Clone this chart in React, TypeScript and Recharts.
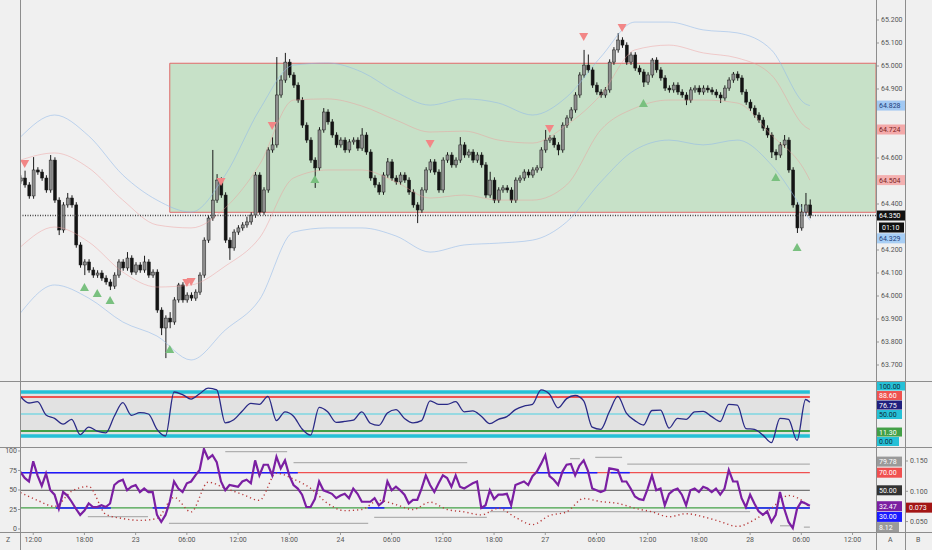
import React from 'react';
import {
  ComposedChart,
  Bar,
  Line,
  Scatter,
  XAxis,
  YAxis,
  ReferenceLine,
  ReferenceArea,
} from 'recharts';

const FONT = 'Roboto, "Liberation Sans", sans-serif';
const X_DOMAIN: [number, number] = [-0.1, 200.5];
const LAST = 185;

// 30-minute candles
const candleOpen = [
  64.500, 64.513, 64.483, 64.435, 64.548, 64.539, 64.513, 64.461, 64.591, 64.417,
  64.287, 64.396, 64.426, 64.396, 64.222, 64.135, 64.148, 64.113, 64.091, 64.100,
  64.078, 64.061, 64.043, 64.091, 64.148, 64.122, 64.165, 64.104, 64.135, 64.113,
  64.148, 64.091, 64.104, 63.939, 63.861, 63.904, 63.887, 63.983, 64.048, 63.983,
  64.004, 63.991, 64.017, 64.091, 64.243, 64.339, 64.417, 64.504, 64.439, 64.243,
  64.209, 64.278, 64.296, 64.309, 64.322, 64.352, 64.526, 64.365, 64.461, 64.635,
  64.657, 64.874, 64.939, 65.017, 64.961, 64.917, 64.852, 64.743, 64.678, 64.591,
  64.557, 64.722, 64.800, 64.757, 64.700, 64.657, 64.678, 64.635, 64.670, 64.678,
  64.643, 64.700, 64.626, 64.513, 64.483, 64.452, 64.526, 64.583, 64.513, 64.496,
  64.526, 64.504, 64.452, 64.396, 64.374, 64.461, 64.548, 64.583, 64.539, 64.461,
  64.591, 64.613, 64.570, 64.591, 64.657, 64.613, 64.626, 64.591, 64.613, 64.570,
  64.439, 64.504, 64.417, 64.461, 64.470, 64.461, 64.417, 64.504, 64.513, 64.539,
  64.526, 64.548, 64.557, 64.635, 64.678, 64.687, 64.657, 64.635, 64.743, 64.774,
  64.809, 64.874, 64.961, 65.004, 64.983, 64.917, 64.887, 64.874, 64.896, 65.017,
  65.070, 65.113, 65.091, 65.017, 65.048, 64.991, 64.974, 64.930, 64.961, 65.026,
  64.983, 64.948, 64.904, 64.896, 64.917, 64.887, 64.874, 64.852, 64.896, 64.904,
  64.887, 64.904, 64.896, 64.887, 64.874, 64.861, 64.904, 64.939, 64.965, 64.948,
  64.887, 64.843, 64.817, 64.787, 64.765, 64.730, 64.700, 64.626, 64.613, 64.657,
  64.678, 64.548, 64.396, 64.296, 64.365, 64.396,
];
const candleHigh = [
  64.525, 64.545, 64.495, 64.604, 64.560, 64.551, 64.525, 64.613, 64.603, 64.429,
  64.408, 64.448, 64.438, 64.408, 64.234, 64.160, 64.160, 64.125, 64.112, 64.112,
  64.090, 64.073, 64.103, 64.160, 64.160, 64.191, 64.177, 64.147, 64.147, 64.175,
  64.160, 64.116, 64.116, 63.951, 63.916, 63.930, 63.995, 64.057, 64.060, 64.016,
  64.016, 64.029, 64.103, 64.255, 64.351, 64.635, 64.530, 64.516, 64.451, 64.255,
  64.290, 64.308, 64.321, 64.345, 64.364, 64.539, 64.538, 64.473, 64.647, 64.690,
  65.039, 64.960, 65.057, 65.030, 64.973, 64.929, 64.864, 64.755, 64.690, 64.603,
  64.734, 64.817, 64.812, 64.769, 64.712, 64.690, 64.690, 64.682, 64.690, 64.690,
  64.730, 64.712, 64.638, 64.525, 64.495, 64.538, 64.600, 64.595, 64.525, 64.538,
  64.538, 64.516, 64.464, 64.408, 64.473, 64.560, 64.595, 64.595, 64.551, 64.603,
  64.625, 64.625, 64.603, 64.691, 64.669, 64.638, 64.638, 64.625, 64.625, 64.582,
  64.540, 64.516, 64.473, 64.482, 64.482, 64.473, 64.516, 64.525, 64.551, 64.551,
  64.560, 64.569, 64.647, 64.722, 64.699, 64.699, 64.669, 64.755, 64.786, 64.821,
  64.886, 64.973, 65.070, 65.050, 64.995, 64.929, 64.899, 64.908, 65.029, 65.082,
  65.143, 65.125, 65.103, 65.060, 65.060, 65.003, 64.986, 64.973, 65.035, 65.038,
  64.995, 64.960, 64.916, 64.929, 64.929, 64.899, 64.886, 64.908, 64.916, 64.916,
  64.916, 64.916, 64.908, 64.899, 64.886, 64.916, 64.951, 64.974, 64.977, 64.960,
  64.899, 64.855, 64.829, 64.799, 64.777, 64.742, 64.712, 64.638, 64.669, 64.700,
  64.690, 64.560, 64.408, 64.400, 64.448, 64.420,
];
const candleLow = [
  64.488, 64.471, 64.423, 64.423, 64.527, 64.501, 64.449, 64.449, 64.405, 64.265,
  64.275, 64.384, 64.384, 64.210, 64.123, 64.091, 64.101, 64.079, 64.079, 64.066,
  64.049, 64.026, 64.031, 64.079, 64.110, 64.110, 64.092, 64.092, 64.101, 64.101,
  64.079, 64.079, 63.927, 63.830, 63.730, 63.860, 63.875, 63.971, 63.971, 63.971,
  63.979, 63.979, 64.005, 64.079, 64.231, 64.327, 64.405, 64.427, 64.231, 64.157,
  64.197, 64.266, 64.284, 64.297, 64.310, 64.340, 64.353, 64.353, 64.449, 64.623,
  64.645, 64.862, 64.927, 64.949, 64.905, 64.840, 64.731, 64.666, 64.579, 64.470,
  64.545, 64.710, 64.745, 64.688, 64.645, 64.645, 64.623, 64.623, 64.658, 64.631,
  64.631, 64.614, 64.501, 64.471, 64.440, 64.440, 64.514, 64.501, 64.484, 64.484,
  64.492, 64.440, 64.384, 64.317, 64.362, 64.449, 64.536, 64.527, 64.449, 64.449,
  64.579, 64.558, 64.558, 64.579, 64.601, 64.601, 64.579, 64.579, 64.558, 64.427,
  64.427, 64.404, 64.405, 64.449, 64.449, 64.405, 64.405, 64.492, 64.501, 64.514,
  64.514, 64.536, 64.545, 64.623, 64.666, 64.645, 64.612, 64.623, 64.731, 64.762,
  64.797, 64.862, 64.949, 64.971, 64.905, 64.875, 64.862, 64.862, 64.884, 65.005,
  65.058, 65.079, 65.005, 65.005, 64.979, 64.962, 64.909, 64.918, 64.949, 64.971,
  64.936, 64.892, 64.884, 64.884, 64.875, 64.862, 64.830, 64.840, 64.884, 64.875,
  64.875, 64.884, 64.875, 64.862, 64.839, 64.849, 64.892, 64.927, 64.936, 64.875,
  64.831, 64.805, 64.775, 64.753, 64.718, 64.688, 64.600, 64.591, 64.601, 64.645,
  64.536, 64.384, 64.274, 64.284, 64.353, 64.338,
];
const candleClose = [
  64.513, 64.483, 64.435, 64.548, 64.539, 64.513, 64.461, 64.591, 64.417, 64.287,
  64.396, 64.426, 64.396, 64.222, 64.135, 64.148, 64.113, 64.091, 64.100, 64.078,
  64.061, 64.043, 64.091, 64.148, 64.122, 64.165, 64.104, 64.135, 64.113, 64.148,
  64.091, 64.104, 63.939, 63.861, 63.904, 63.887, 63.983, 64.048, 63.983, 64.004,
  63.991, 64.017, 64.091, 64.243, 64.339, 64.417, 64.504, 64.439, 64.243, 64.209,
  64.278, 64.296, 64.309, 64.322, 64.352, 64.526, 64.365, 64.461, 64.635, 64.657,
  64.874, 64.939, 65.017, 64.961, 64.917, 64.852, 64.743, 64.678, 64.591, 64.557,
  64.722, 64.800, 64.757, 64.700, 64.657, 64.678, 64.635, 64.670, 64.678, 64.643,
  64.700, 64.626, 64.513, 64.483, 64.452, 64.526, 64.583, 64.513, 64.496, 64.526,
  64.504, 64.452, 64.396, 64.374, 64.461, 64.548, 64.583, 64.539, 64.461, 64.591,
  64.613, 64.570, 64.591, 64.657, 64.613, 64.626, 64.591, 64.613, 64.570, 64.439,
  64.504, 64.417, 64.461, 64.470, 64.461, 64.417, 64.504, 64.513, 64.539, 64.526,
  64.548, 64.557, 64.635, 64.678, 64.687, 64.657, 64.635, 64.743, 64.774, 64.809,
  64.874, 64.961, 65.004, 64.983, 64.917, 64.887, 64.874, 64.896, 65.017, 65.070,
  65.113, 65.091, 65.017, 65.048, 64.991, 64.974, 64.930, 64.961, 65.026, 64.983,
  64.948, 64.904, 64.896, 64.917, 64.887, 64.874, 64.852, 64.896, 64.904, 64.887,
  64.904, 64.896, 64.887, 64.874, 64.861, 64.904, 64.939, 64.965, 64.948, 64.887,
  64.843, 64.817, 64.787, 64.765, 64.730, 64.700, 64.626, 64.613, 64.657, 64.678,
  64.548, 64.396, 64.296, 64.365, 64.396, 64.350,
];

// envelope bands, sampled every 8 candles
const bandIndex = [0, 8, 16, 24, 32, 40, 48, 56, 64, 72, 80, 88, 96, 104, 112, 120, 128, 136, 144, 152, 160, 168, 176, 184, 185];
const bandUpperOuter = [64.691, 64.787, 64.696, 64.526, 64.417, 64.365, 64.526, 64.809, 65.004, 65.013, 64.974, 64.887, 64.830, 64.857, 64.839, 64.787, 64.865, 65.039, 65.191, 65.191, 65.157, 65.144, 65.070, 64.835, 64.828];
const bandUpperInner = [64.591, 64.622, 64.557, 64.417, 64.309, 64.296, 64.383, 64.570, 64.852, 64.857, 64.826, 64.765, 64.713, 64.717, 64.678, 64.665, 64.743, 64.874, 65.070, 65.091, 65.057, 65.035, 64.961, 64.735, 64.724];
const bandLowerInner = [64.213, 64.300, 64.235, 64.104, 64.039, 64.048, 64.130, 64.252, 64.513, 64.548, 64.548, 64.496, 64.426, 64.439, 64.417, 64.417, 64.483, 64.722, 64.817, 64.852, 64.852, 64.839, 64.700, 64.539, 64.504];
const bandLowerOuter = [63.926, 64.048, 63.991, 63.887, 63.826, 63.722, 63.852, 63.983, 64.278, 64.296, 64.296, 64.261, 64.191, 64.222, 64.230, 64.243, 64.322, 64.496, 64.635, 64.678, 64.657, 64.678, 64.570, 64.357, 64.329];

// signal triangles
const sellMarkIndex = [1, 39, 40, 47, 59, 96, 124, 132, 141];
const sellMarkPrice = [64.574, 64.057, 64.061, 64.496, 64.739, 64.661, 64.726, 65.126, 65.165];
const buyMarkIndex = [15, 18, 21, 35, 69, 146, 177, 182];
const buyMarkPrice = [64.039, 64.013, 63.983, 63.770, 64.509, 64.839, 64.517, 64.213];

// range box
const zoneStart = 35;
const zoneTop = 65.012;
const zoneBottom = 64.364;

const priceTicks = [63.7, 63.8, 63.9, 64.0, 64.1, 64.2, 64.4, 64.6, 64.9, 65.0, 65.1, 65.2];

// oscillator panel, every 2 candles
const oscIndex = [
  0, 2, 4, 6, 8, 10, 12, 14, 16, 18, 20, 22, 24, 26, 28, 30, 32, 34, 36, 38,
  40, 42, 44, 46, 48, 50, 52, 54, 56, 58, 60, 62, 64, 66, 68, 70, 72, 74, 76, 78,
  80, 82, 84, 86, 88, 90, 92, 94, 96, 98, 100, 102, 104, 106, 108, 110, 112, 114, 116, 118,
  120, 122, 124, 126, 128, 130, 132, 134, 136, 138, 140, 142, 144, 146, 148, 150, 152, 154, 156, 158,
  160, 162, 164, 166, 168, 170, 172, 174, 176, 178, 180, 182, 184, 185,
];
const oscValue = [
  90, 75, 78, 48, 40, 27, 38, 3, 20, 11,
  7, 45, 76, 47, 53, 50, 15, 0, 100, 94,
  84, 96, 109, 105, 30, 37, 57, 74, 72, 90,
  35, 55, 45, 16, 2, 65, 55, 31, 33, 36,
  55, 29, 24, 52, 60, 40, 30, 35, 80, 72,
  72, 78, 55, 57, 45, 28, 38, 44, 60, 68,
  72, 105, 95, 64, 85, 92, 80, 20, 15, 55,
  90, 52, 35, 25, 58, 59, 18, 40, 38, 55,
  56, 44, 33, 72, 70, 17, 15, 2, -15, 40,
  38, -10, 83, 76.75,
];

// RSI panel, one value per candle
const rsiValue = [
  71, 64, 60, 83, 67, 55, 69, 50, 45, 29,
  48, 44, 37, 29, 22, 27, 35, 31, 31, 33,
  31, 35, 56, 60, 62, 50, 54, 56, 48, 52,
  48, 48, 22, 14, 22, 37, 60, 52, 48, 58,
  60, 67, 73, 97, 86, 90, 82, 60, 50, 56,
  55, 54, 60, 62, 58, 84, 67, 79, 79, 67,
  88, 75, 84, 67, 56, 52, 45, 31, 31, 40,
  60, 50, 48, 46, 41, 44, 46, 41, 52, 46,
  37, 37, 37, 41, 33, 37, 60, 50, 54, 50,
  45, 35, 39, 39, 52, 67, 56, 48, 58, 67,
  64, 54, 67, 54, 52, 55, 58, 60, 30, 33,
  50, 40, 45, 45, 46, 33, 56, 58, 60, 56,
  66, 71, 80, 90, 66, 62, 56, 71, 79, 80,
  67, 78, 84, 72, 52, 50, 48, 50, 75, 74,
  73, 60, 60, 52, 43, 40, 39, 52, 67, 50,
  52, 33, 46, 50, 52, 45, 33, 50, 52, 48,
  54, 52, 48, 52, 45, 52, 73, 60, 60, 41,
  31, 45, 35, 26, 22, 26, 14, 22, 48, 29,
  14, 7, 29, 37, 35, 32.47,
];

// dotted series on scale B, every 4 candles
const dotIndex = [0, 4, 8, 12, 16, 20, 24, 28, 32, 36, 40, 44, 48, 52, 56, 60, 64, 68, 72, 76, 80, 84, 88, 92, 96, 100, 104, 108, 112, 116, 120, 124, 128, 132, 136, 140, 144, 148, 152, 156, 160, 164, 168, 172, 176, 180, 184, 185];
const dotValue = [0.098, 0.085, 0.075, 0.100, 0.108, 0.062, 0.055, 0.052, 0.055, 0.090, 0.066, 0.115, 0.105, 0.095, 0.085, 0.130, 0.120, 0.105, 0.080, 0.068, 0.070, 0.085, 0.078, 0.070, 0.082, 0.070, 0.066, 0.061, 0.072, 0.057, 0.045, 0.060, 0.066, 0.088, 0.083, 0.080, 0.072, 0.066, 0.058, 0.063, 0.058, 0.050, 0.042, 0.053, 0.072, 0.093, 0.080, 0.073];

// horizontal level segments in the RSI panel: [from, to, level]
const blueSegments = [[0, 65, 70], [8.3, 21.2, 30], [31, 34.5, 30], [81.4, 85.3, 30], [107.8, 115.2, 30], [121, 135.2, 70], [138.3, 142.8, 70], [169.9, 185, 30]];
const graySegments = [[15.8, 29.9, 20], [34.8, 81.5, 12.4], [48, 62.5, 94], [64, 104.7, 81.4], [82.9, 109.3, 19.2], [110, 171, 25.7], [128.8, 131.1, 86], [134.7, 141, 87.4], [142.2, 185, 79.78], [178, 181, 9.7], [183.6, 185, 8.12]];

const timeTickIndex = [3, 15, 27, 39, 51, 63, 75, 87, 99, 111, 123, 135, 147, 159, 171, 183, 195];
const timeTickLabel = ['12:00', '18:00', '23', '06:00', '12:00', '18:00', '24', '06:00', '12:00', '18:00', '27', '06:00', '12:00', '18:00', '28', '06:00', '12:00'];

const candleRows = candleClose.map((c, i) => ({
  i,
  o: candleOpen[i],
  h: candleHigh[i],
  l: candleLow[i],
  c,
  range: [candleLow[i], candleHigh[i]],
}));
const bandRows = bandIndex.map((i, k) => ({
  i,
  bu: bandUpperOuter[k],
  ru: bandUpperInner[k],
  rl: bandLowerInner[k],
  bl: bandLowerOuter[k],
}));
const sellRows = sellMarkIndex.map((i, k) => ({ i, p: sellMarkPrice[k] }));
const buyRows = buyMarkIndex.map((i, k) => ({ i, p: buyMarkPrice[k] }));
const oscRows = oscIndex.map((i, k) => ({ i, v: oscValue[k] }));
const rsiRows = rsiValue.map((v, i) => ({ i, v }));
const dotRows = dotIndex.map((i, k) => ({ i, b: dotValue[k] }));

const Candle = (props: any) => {
  const { x, y, width, height, payload } = props;
  if (!payload || !height) return null;
  const { o, h, l, c } = payload;
  const k = height / (h - l);
  const cx = x + width / 2;
  const yO = y + (h - o) * k;
  const yC = y + (h - c) * k;
  const up = c >= o;
  return (
    <g>
      <line x1={cx} x2={cx} y1={y} y2={y + height} stroke="#1a1a1a" strokeWidth={1} />
      <rect
        x={cx - 1.5}
        y={Math.min(yO, yC)}
        width={3}
        height={Math.max(1, Math.abs(yO - yC))}
        fill={up ? '#8e8e8e' : '#141414'}
        stroke="#1a1a1a"
        strokeWidth={0.5}
      />
    </g>
  );
};

const DownTri = (props: any) => {
  const { cx, cy } = props;
  return <path d={`M${cx - 4.5},${cy - 4} L${cx + 4.5},${cy - 4} L${cx},${cy + 4} Z`} fill="#f28686" />;
};
const UpTri = (props: any) => {
  const { cx, cy } = props;
  return <path d={`M${cx - 4.5},${cy + 4} L${cx + 4.5},${cy + 4} L${cx},${cy - 4} Z`} fill="#79c07f" />;
};

const Badge = (props: any) => {
  const { viewBox, text, bg, fg, dy = 0, w = 29, dx = 0, h = 10 } = props;
  if (!viewBox) return null;
  const x = viewBox.x + viewBox.width + dx;
  const yc = viewBox.y + dy;
  return (
    <g>
      <rect x={x} y={yc - h / 2} width={w} height={h} fill={bg} />
      <text x={x + 3} y={yc + 2.5} fontSize={7} fill={fg} fontFamily={FONT}>
        {text}
      </text>
    </g>
  );
};

const hLine = (top: number): React.CSSProperties => ({
  position: 'absolute', left: 0, top, width: 932, height: 1, background: '#8d8d8d',
});
const vLine = (left: number): React.CSSProperties => ({
  position: 'absolute', left, top: 0, width: 1, height: 550, background: '#8d8d8d',
});
const axisText = { fontSize: 7, fill: '#555', fontFamily: FONT };

export default function App() {
  const lastClose = candleClose[LAST];
  return (
    <div style={{ position: 'fixed', left: 0, top: 0, width: 932, height: 550, background: '#f0f0f0', overflow: 'hidden', fontFamily: FONT }}>
      {/* price panel */}
      <div style={{ position: 'absolute', left: 0, top: 0 }}>
        <ComposedChart width={932} height={381} data={candleRows} margin={{ top: 0, right: 0, bottom: 0, left: 20 }}>
          <XAxis dataKey="i" type="number" domain={X_DOMAIN} hide allowDataOverflow />
          <YAxis
            orientation="right"
            width={56}
            domain={[63.6305, 65.287]}
            ticks={priceTicks}
            allowDataOverflow
            axisLine={false}
            tickSize={3}
            tickLine={{ stroke: '#999' }}
            tick={axisText}
            tickFormatter={(v: number) => v.toFixed(3)}
          />
          <ReferenceArea x1={zoneStart} x2={X_DOMAIN[1]} y1={zoneBottom} y2={zoneTop} fill="#a5d6a7" fillOpacity={0.55} stroke="#e06a6a" strokeWidth={1} ifOverflow="hidden" />
          <Line data={bandRows} dataKey="bu" type="monotone" stroke="#8fb8ea" strokeOpacity={0.55} strokeWidth={1} dot={false} isAnimationActive={false} />
          <Line data={bandRows} dataKey="ru" type="monotone" stroke="#ee9a9a" strokeOpacity={0.45} strokeWidth={1} dot={false} isAnimationActive={false} />
          <Line data={bandRows} dataKey="rl" type="monotone" stroke="#ee9a9a" strokeOpacity={0.45} strokeWidth={1} dot={false} isAnimationActive={false} />
          <Line data={bandRows} dataKey="bl" type="monotone" stroke="#8fb8ea" strokeOpacity={0.55} strokeWidth={1} dot={false} isAnimationActive={false} />
          <Bar dataKey="range" shape={Candle} barSize={3} isAnimationActive={false} />
          <Scatter data={sellRows} dataKey="p" shape={DownTri} isAnimationActive={false} />
          <Scatter data={buyRows} dataKey="p" shape={UpTri} isAnimationActive={false} />
          <ReferenceLine y={lastClose} stroke="#444" strokeWidth={1.5} strokeDasharray="1 1.5" />
          <ReferenceLine y={bandUpperOuter[bandUpperOuter.length - 1]} stroke="none" label={<Badge text="64.828" bg="#a2c8f2" fg="#1d3d7a" />} />
          <ReferenceLine y={bandUpperInner[bandUpperInner.length - 1]} stroke="none" label={<Badge text="64.724" bg="#f4a9a9" fg="#7a1f1f" />} />
          <ReferenceLine y={bandLowerInner[bandLowerInner.length - 1]} stroke="none" label={<Badge text="64.504" bg="#f4b1b1" fg="#7a1f1f" />} />
          <ReferenceLine y={bandLowerOuter[bandLowerOuter.length - 1]} stroke="none" label={<Badge text="64.329" bg="#a8cef4" fg="#1d3d7a" dy={18} />} />
          <ReferenceLine y={lastClose} stroke="none" label={<Badge text="64.350" bg="#111" fg="#fff" />} />
          <ReferenceLine y={lastClose} stroke="none" label={<Badge text="01:10" bg="#111" fg="#fff" dy={12} dx={3} w={25} />} />
        </ComposedChart>
      </div>

      {/* oscillator panel */}
      <div style={{ position: 'absolute', left: 0, top: 381 }}>
        <ComposedChart width={932} height={66} data={oscRows} margin={{ top: 0, right: 0, bottom: 0, left: 20 }}>
          <XAxis dataKey="i" type="number" domain={X_DOMAIN} hide allowDataOverflow />
          <YAxis orientation="right" width={56} domain={[-25, 125]} allowDataOverflow tick={false} tickLine={false} axisLine={false} />
          <ReferenceArea x1={X_DOMAIN[0]} x2={LAST} y1={0} y2={100} fill="#e2e2e2" fillOpacity={1} stroke="none" />
          <ReferenceLine segment={[{ x: X_DOMAIN[0], y: 100 }, { x: LAST, y: 100 }]} stroke="#26c0d6" strokeWidth={3.5} />
          <ReferenceLine segment={[{ x: X_DOMAIN[0], y: 88.6 }, { x: LAST, y: 88.6 }]} stroke="#ef5350" strokeWidth={2} />
          <ReferenceLine segment={[{ x: X_DOMAIN[0], y: 50 }, { x: LAST, y: 50 }]} stroke="#4dd0e1" strokeWidth={1} />
          <ReferenceLine segment={[{ x: X_DOMAIN[0], y: 11.3 }, { x: LAST, y: 11.3 }]} stroke="#43a047" strokeWidth={2} />
          <ReferenceLine segment={[{ x: X_DOMAIN[0], y: 0 }, { x: LAST, y: 0 }]} stroke="#26c0d6" strokeWidth={3.5} />
          <Line dataKey="v" type="monotone" stroke="#2a2a86" strokeWidth={1.3} dot={false} isAnimationActive={false} />
          <ReferenceLine y={100} stroke="none" label={<Badge text="100.00" bg="#26c0d6" fg="#0d2d3a" dy={-6} h={9} />} />
          <ReferenceLine y={88.6} stroke="none" label={<Badge text="88.60" bg="#ef5350" fg="#fff" dy={-1.5} w={26} h={9} />} />
          <ReferenceLine y={76.75} stroke="none" label={<Badge text="76.75" bg="#1f1f7e" fg="#fff" dy={2.8} w={26} h={9} />} />
          <ReferenceLine y={50} stroke="none" label={<Badge text="50.00" bg="#26c0d6" fg="#0d2d3a" dy={0.5} w={26} h={9} />} />
          <ReferenceLine y={11.3} stroke="none" label={<Badge text="11.30" bg="#43a047" fg="#fff" dy={1} w={26} h={9} />} />
          <ReferenceLine y={0} stroke="none" label={<Badge text="0.00" bg="#26c0d6" fg="#0d2d3a" dy={5.5} w={23} h={9} />} />
        </ComposedChart>
      </div>

      {/* RSI panel + time axis */}
      <div style={{ position: 'absolute', left: 0, top: 447 }}>
        <ComposedChart width={932} height={103} data={rsiRows} margin={{ top: 0, right: 0, bottom: 0, left: 0 }}>
          <XAxis
            dataKey="i"
            type="number"
            domain={X_DOMAIN}
            allowDataOverflow
            height={18}
            ticks={timeTickIndex}
            interval={0}
            tickFormatter={(v: number) => timeTickLabel[timeTickIndex.indexOf(v)] ?? ''}
            tick={axisText}
            tickSize={3}
            tickLine={{ stroke: '#999' }}
            axisLine={false}
          />
          <YAxis yAxisId="Z" orientation="left" width={20} domain={[-3.85, 105.1]} ticks={[0, 25, 50, 75, 100]} allowDataOverflow tick={axisText} tickSize={2} tickMargin={1} tickLine={{ stroke: '#999' }} axisLine={false} />
          <YAxis yAxisId="A" orientation="right" width={29} domain={[2.6, 99.2]} allowDataOverflow tick={false} tickLine={false} axisLine={false} />
          <YAxis yAxisId="B" orientation="right" width={27} domain={[0.0328, 0.1731]} ticks={[0.05, 0.1, 0.15]} allowDataOverflow tick={axisText} tickSize={3} tickLine={{ stroke: '#999' }} axisLine={false} tickFormatter={(v: number) => v.toFixed(3)} />
          <ReferenceLine yAxisId="A" segment={[{ x: X_DOMAIN[0], y: 70 }, { x: LAST, y: 70 }]} stroke="#f05050" strokeWidth={1.3} />
          <ReferenceLine yAxisId="A" segment={[{ x: X_DOMAIN[0], y: 50 }, { x: LAST, y: 50 }]} stroke="#555" strokeWidth={1} />
          <ReferenceLine yAxisId="A" segment={[{ x: X_DOMAIN[0], y: 30 }, { x: LAST, y: 30 }]} stroke="#43a047" strokeWidth={1.3} />
          {graySegments.map(([a, b, v], k) => (
            <ReferenceLine key={`g${k}`} yAxisId="A" segment={[{ x: a, y: v }, { x: b, y: v }]} stroke="#b0b0b0" strokeWidth={1.3} />
          ))}
          {blueSegments.map(([a, b, v], k) => (
            <ReferenceLine key={`b${k}`} yAxisId="A" segment={[{ x: a, y: v }, { x: b, y: v }]} stroke="#1a1aff" strokeWidth={1.5} />
          ))}
          <Line yAxisId="B" data={dotRows} dataKey="b" type="monotone" stroke="#b83a3a" strokeWidth={1.4} strokeDasharray="1.2 3" dot={false} isAnimationActive={false} />
          <Line yAxisId="A" dataKey="v" type="linear" stroke="#7b1fa2" strokeWidth={2.2} dot={false} isAnimationActive={false} />
          <ReferenceLine yAxisId="A" y={79.78} stroke="none" label={<Badge text="79.78" bg="#9a9a9a" fg="#fff" dy={-2.5} w={26} />} />
          <ReferenceLine yAxisId="A" y={70} stroke="none" label={<Badge text="70.00" bg="#f05050" fg="#fff" w={26} />} />
          <ReferenceLine yAxisId="A" y={50} stroke="none" label={<Badge text="50.00" bg="#333" fg="#fff" w={26} />} />
          <ReferenceLine yAxisId="A" y={rsiValue[LAST]} stroke="none" label={<Badge text="32.47" bg="#7b1fa2" fg="#fff" dy={0.5} w={26} />} />
          <ReferenceLine yAxisId="A" y={30} stroke="none" label={<Badge text="30.00" bg="#1a1aff" fg="#fff" dy={9} w={26} />} />
          <ReferenceLine yAxisId="A" y={8.12} stroke="none" label={<Badge text="8.12" bg="#9a9a9a" fg="#fff" w={23} />} />
          <ReferenceLine yAxisId="B" y={dotValue[dotValue.length - 1]} stroke="none" label={<Badge text="0.073" bg="#a31515" fg="#fff" dx={30} w={26} />} />
        </ComposedChart>
      </div>

      {/* frame */}
      <div style={vLine(20)} />
      <div style={vLine(876)} />
      <div style={vLine(905)} />
      <div style={hLine(381)} />
      <div style={hLine(447)} />
      <div style={hLine(532)} />
      <div style={{ position: 'absolute', left: 6, top: 536, fontSize: 7, color: '#555' }}>Z</div>
      <div style={{ position: 'absolute', left: 888, top: 536, fontSize: 7, color: '#555' }}>A</div>
      <div style={{ position: 'absolute', left: 916, top: 536, fontSize: 7, color: '#555' }}>B</div>
    </div>
  );
}
